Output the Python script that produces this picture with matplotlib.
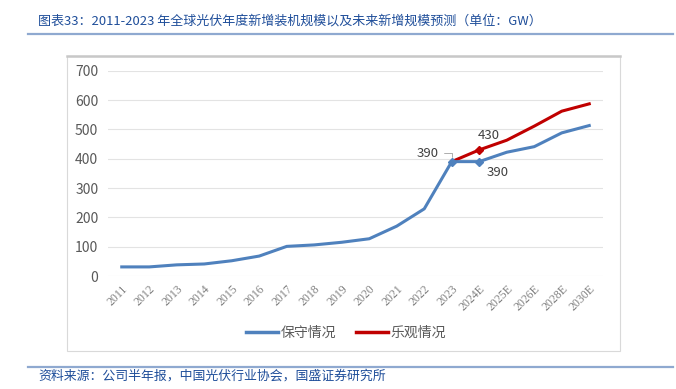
import numpy as np
import matplotlib.pyplot as plt
from matplotlib.patches import Rectangle
from matplotlib.lines import Line2D

plt.rcParams['font.family'] = ['Noto Sans CJK SC', 'DejaVu Sans']

years = ['2011', '2012', '2013', '2014', '2015', '2016', '2017', '2018', '2019',
         '2020', '2021', '2022', '2023', '2024E', '2025E', '2026E', '2028E', '2030E']
conservative = [31, 31, 38, 41, 52, 68, 101, 106, 115, 127, 170, 229, 390, 390,
                422, 441, 488, 513]
optimistic_years = ['2023', '2024E', '2025E', '2026E', '2028E', '2030E']
optimistic = [390, 430, 463, 511, 562, 587]

blue = '#4F81BD'
red = '#C00000'
title_color = '#1F4E9A'

fig = plt.figure(figsize=(6.76, 3.89), dpi=100)
W, H = 676, 389

def fx(px):
    return px / W

def fy(py):
    return 1 - py / H

# title and rules
fig.text(fx(38), fy(21), '图表33：2011-2023 年全球光伏年度新增装机规模以及未来新增规模预测（单位：GW）',
         fontsize=9.4, color=title_color, style='italic', va='center', ha='left')
fig.add_artist(Line2D([fx(28), fx(673)], [fy(34), fy(34)], color='#8FA9D0', lw=1.6))
fig.add_artist(Line2D([fx(28), fx(673)], [fy(367), fy(367)], color='#8FA9D0', lw=1.6))
fig.text(fx(38), fy(376), '资料来源：公司半年报，中国光伏行业协会，国盛证券研究所',
         fontsize=9.3, color=title_color, style='italic', va='center', ha='left')

# chart frame
fig.add_artist(Rectangle((fx(67), fy(351)), fx(620) - fx(67), fy(56) - fy(351),
                         facecolor='white', edgecolor='#D9D9D9', lw=0.8, zorder=-10))
fig.add_artist(Line2D([fx(67), fx(620)], [fy(56), fy(56)], color='#C8C8C8', lw=1.8, zorder=-9))

ax = fig.add_axes([fx(108), fy(276), fx(603) - fx(108), fy(70.7) - fy(276)])
ax.set_facecolor('none')

x = np.arange(len(years))
xo = np.array([years.index(y) for y in optimistic_years])

ax.plot(xo, optimistic, color=red, lw=2.2, zorder=3)
ax.plot(x, conservative, color=blue, lw=2.2, zorder=4)
ax.plot([12, 13], [conservative[12], conservative[13]], 'D', color=blue, ms=4.5, zorder=5)
ax.plot([xo[1]], [optimistic[1]], 'D', color=red, ms=4.5, zorder=5)

ax.set_xlim(-0.5, len(years) - 0.5)
ax.set_ylim(0, 700)
ax.set_yticks(np.arange(0, 701, 100))
ax.yaxis.grid(True, color='#E3E3E3', lw=0.8)
ax.set_axisbelow(True)
for s in ax.spines.values():
    s.set_visible(False)
ax.tick_params(length=0)
ax.tick_params(axis='y', labelsize=10, colors='#595959', pad=7)
ax.set_xticks(x)
ax.set_xticklabels(years, rotation=45, ha='right', rotation_mode='anchor',
                   fontsize=8.5, color='#7F7F7F', family=['Liberation Serif', 'DejaVu Serif'])
ax.tick_params(axis='x', pad=5)

# annotations
ax.annotate('390', xy=(12, 390), xytext=(-17, 6), textcoords='offset points',
            fontsize=9.5, color='#404040', ha='center', va='center',
            arrowprops=dict(arrowstyle='-', color='#A0A0A0', lw=0.6,
                            connectionstyle='angle,angleA=0,angleB=90,rad=0',
                            shrinkA=1.5, shrinkB=3))
ax.annotate('430', xy=(13, 430), xytext=(6.5, 10), textcoords='offset points',
            fontsize=9.5, color='#404040', ha='center', va='center')
ax.annotate('390', xy=(13, 390), xytext=(13, -8), textcoords='offset points',
            fontsize=9.5, color='#404040', ha='center', va='center')

# legend
handles = [Line2D([], [], color=blue, lw=2.5), Line2D([], [], color=red, lw=2.5)]
fig.legend(handles, ['保守情况', '乐观情况'], loc='center', bbox_to_anchor=(fx(346), fy(333)),
           ncol=2, frameon=False, fontsize=10, handlelength=2.3, handletextpad=0.2,
           columnspacing=1.4, labelcolor='#595959')

plt.savefig('out.png', dpi=100)
plt.close()
